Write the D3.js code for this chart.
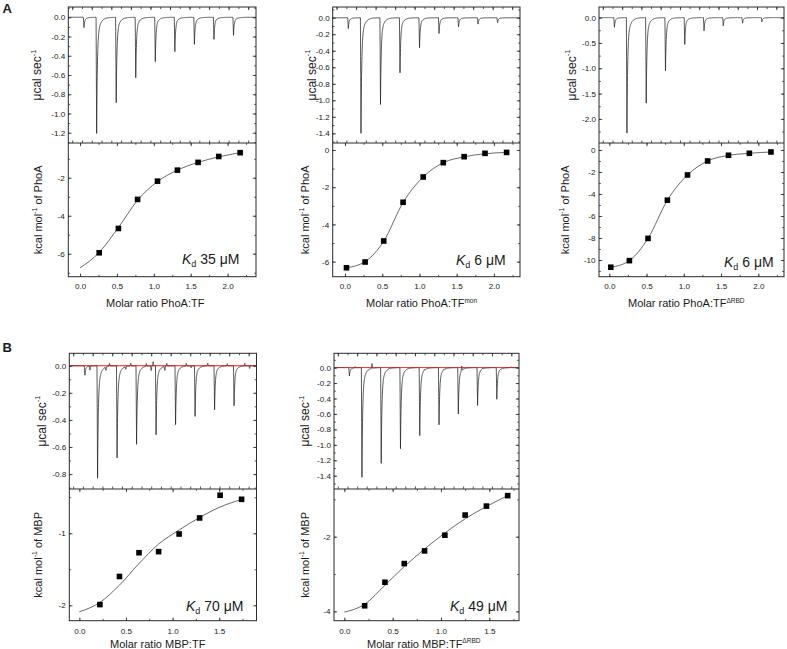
<!DOCTYPE html>
<html><head><meta charset="utf-8">
<script src="https://cdn.jsdelivr.net/npm/d3@7"></script>
<style>
body{margin:0;background:#fff}
svg{display:block}
text{font-family:"Liberation Sans",Arial,Helvetica,sans-serif;fill:#1a1a1a}
</style>
</head><body>
<svg id="c" width="787" height="649"></svg>
<script>
// ---------------- DATA ----------------
// injection times (min) of the raw ITC traces
const injTimes = [6, 12.5, 22.5, 32.5, 42.5, 52.5, 62.5, 72.5, 82.5];
// peak heights (µcal/sec) of each injection
const peaksA1 = [-0.107, -1.207, -0.888, -0.628, -0.461, -0.357, -0.281, -0.229, -0.187];
const peaksA2 = [-0.13, -1.40, -1.05, -0.666, -0.363, -0.19, -0.109, -0.077, -0.06];
const peaksA3 = [-0.19, -2.28, -1.69, -1.05, -0.53, -0.26, -0.16, -0.11, -0.085];
const peaksB1 = [-0.07, -0.83, -0.68, -0.58, -0.51, -0.435, -0.374, -0.325, -0.295];
const peaksB2 = [-0.108, -1.42, -1.24, -1.05, -0.88, -0.74, -0.60, -0.49, -0.41];
// small baseline deflections in the MBP traces [time, amplitude]
const blipsB1 = [[8.6,-0.03],[16.8,-0.025],[18.6,0.02],[27,-0.02],[29.5,0.02],[37.5,0.02],[40,-0.035],[41,0.03],[47,-0.03],[48,0.02],[58,0.02],[60.5,-0.015],[69,0.02],[79,0.015],[88,0.02],[90.5,-0.02]];
const blipsB2 = [[9,0.015],[17.7,0.06],[27,0.01],[45,0.012],[55,0.01],[64.3,0.06],[75,0.01],[90,0.012]];

// integrated heats (kcal/mol of injectant)
const xA1 = [0.26, 0.52, 0.78, 1.05, 1.32, 1.60, 1.88, 2.17];
const yA1 = [-5.95, -4.67, -3.14, -2.18, -1.60, -1.19, -0.88, -0.68];
const xA2 = [0.02, 0.27, 0.52, 0.78, 1.05, 1.32, 1.60, 1.88, 2.17];
const yA2 = [-6.33, -6.02, -4.89, -2.81, -1.45, -0.68, -0.36, -0.18, -0.13];
const xA3 = [0.02, 0.27, 0.52, 0.78, 1.05, 1.32, 1.60, 1.88, 2.17];
const yA3 = [-10.66, -10.06, -8.04, -4.56, -2.27, -1.00, -0.48, -0.30, -0.18];
const xB1 = [0.22, 0.43, 0.64, 0.85, 1.07, 1.29, 1.51, 1.74];
const yB1 = [-1.99, -1.60, -1.27, -1.255, -1.01, -0.787, -0.472, -0.528];
const xB2 = [0.21, 0.42, 0.62, 0.83, 1.04, 1.25, 1.47, 1.69];
const yB2 = [-3.85, -3.22, -2.72, -2.38, -1.96, -1.42, -1.18, -0.90];

// fitted binding curves
const fitXA1 = [0, 0.26, 0.52, 0.78, 1.05, 1.32, 1.60, 1.88, 2.17];
const fitYA1 = [-6.75, -5.93, -4.62, -3.18, -2.20, -1.60, -1.19, -0.90, -0.68];
const fitXA2 = [0.02, 0.27, 0.52, 0.78, 1.05, 1.32, 1.60, 1.88, 2.17];
const fitYA2 = [-6.33, -6.00, -4.90, -2.82, -1.45, -0.68, -0.37, -0.20, -0.13];
const fitXA3 = [0.02, 0.27, 0.52, 0.78, 1.05, 1.32, 1.60, 1.88, 2.17];
const fitYA3 = [-10.66, -10.06, -8.04, -4.56, -2.27, -1.00, -0.49, -0.30, -0.18];
const fitXB1 = [0, 0.22, 0.43, 0.64, 0.85, 1.07, 1.29, 1.51, 1.74];
const fitYB1 = [-2.09, -1.96, -1.72, -1.42, -1.15, -0.955, -0.78, -0.635, -0.53];
const fitXB2 = [0, 0.21, 0.42, 0.62, 0.83, 1.04, 1.25, 1.47, 1.69];
const fitYB2 = [-4.02, -3.81, -3.30, -2.80, -2.33, -1.90, -1.52, -1.19, -0.90];

const kdValues = ["35", "6", "6", "70", "49"];
const titleMain = ["Molar ratio PhoA:TF", "Molar ratio PhoA:TF", "Molar ratio PhoA:TF", "Molar ratio MBP:TF", "Molar ratio MBP:TF"];
const titleSup = ["", "mon", "\u0394RBD", "", "\u0394RBD"];
const ligand = ["PhoA", "PhoA", "PhoA", "MBP", "MBP"];

// ---------------- LAYOUT ----------------
const rowA = {yt: 7, ym: 143, yb: 276.7, tickLab: 289, title: 307};
const rowB = {yt: 353.3, ym: 489, yb: 620.7, tickLab: 634.5, title: 647.5};
const panels = [
  {row: rowA, x0: 68.3, x1: 256, peaks: peaksA1, blips: null, base: false,
   topD: [0.107, -1.307], topStep: 0.2, topMinor: 0.1, topDec: 1,
   botD: [-0.17, -7.21], botStep: 2, botMinor: 1, botDec: 0,
   xD: [-0.159, 2.385], xStep: 0.5, xMinor: 0.25,
   px: xA1, py: yA1, fx: fitXA1, fy: fitYA1,
   tTitleX: 37, bTitleX: 38.3, xTitleX: 106, kdX: 182, kdY: 264},
  {row: rowA, x0: 332.7, x1: 520, peaks: peaksA2, blips: null, base: false,
   topD: [0.13, -1.517], topStep: 0.2, topMinor: 0.1, topDec: 1,
   botD: [0.376, -6.81], botStep: 2, botMinor: 1, botDec: 0,
   xD: [-0.165, 2.35], xStep: 0.5, xMinor: 0.25,
   px: xA2, py: yA2, fx: fitXA2, fy: fitYA2,
   tTitleX: 311.5, bTitleX: 305, xTitleX: 366, kdX: 456, kdY: 265},
  {row: rowA, x0: 599, x1: 784, peaks: peaksA3, blips: null, base: false,
   topD: [0.21, -2.476], topStep: 0.5, topMinor: 0.25, topDec: 1,
   botD: [0.636, -11.52], botStep: 2, botMinor: 1, botDec: 0,
   xD: [-0.138, 2.345], xStep: 0.5, xMinor: 0.25,
   px: xA3, py: yA3, fx: fitXA3, fy: fitYA3,
   tTitleX: 571.7, bTitleX: 565, xTitleX: 628, kdX: 724, kdY: 267},
  {row: rowB, x0: 69.3, x1: 256.5, peaks: peaksB1, blips: blipsB1, base: true,
   topD: [0.0915, -0.91], topStep: 0.2, topMinor: 0.1, topDec: 1,
   botD: [-0.385, -2.214], botStep: 1, botMinor: 0.5, botDec: 0,
   xD: [-0.108, 1.90], xStep: 0.5, xMinor: 0.25,
   px: xB1, py: yB1, fx: fitXB1, fy: fitYB1,
   tTitleX: 41.7, bTitleX: 38.3, xTitleX: 110, kdX: 186, kdY: 610.7},
  {row: rowB, x0: 334, x1: 519, peaks: peaksB2, blips: blipsB2, base: true,
   topD: [0.185, -1.572], topStep: 0.2, topMinor: 0.1, topDec: 1,
   botD: [-0.722, -4.25], botStep: 2, botMinor: 1, botDec: 0,
   xD: [-0.107, 1.807], xStep: 0.5, xMinor: 0.25,
   px: xB2, py: yB2, fx: fitXB2, fy: fitYB2,
   tTitleX: 305, bTitleX: 305, xTitleX: 367, kdX: 450, kdY: 610.7}
];
const timeDomain = [-2, 94];

// ---------------- HELPERS ----------------
const svg = d3.select("#c");
const TICK_FS = 8.1, TITLE_FS = 11, KD_FS = 14;
const ink = "#2a2a2a";

function ticksIn(domain, step) {
  const lo = Math.min(domain[0], domain[1]), hi = Math.max(domain[0], domain[1]);
  const a = Math.ceil(lo / step - 1e-6), b = Math.floor(hi / step + 1e-6);
  return d3.range(a, b + 1).map(i => +(i * step).toFixed(6));
}
function fmt(v, dec) {
  return (Math.abs(v) < 1e-9 ? 0 : v).toFixed(dec);
}
function styleAxis(g) {
  g.select(".domain").remove();
  g.selectAll("line").attr("stroke", ink).attr("stroke-width", 0.8);
  g.selectAll("text").attr("font-size", TICK_FS).attr("fill", "#1a1a1a")
    .style("font-family", '"Liberation Sans",Arial,sans-serif');
}
function pulse(t, t0, h) {
  const d = 0.3;
  if (t < t0 - d) return 0;
  if (t <= t0) return h * (t - (t0 - d)) / d;
  const dt = t - t0;
  return h * (0.8 * Math.exp(-dt / 0.35) + 0.2 * Math.exp(-dt / 1.5));
}
function blip(t, t0, a) {
  const w = 0.35, dd = Math.abs(t - t0);
  return dd > w ? 0 : a * (1 - dd / w);
}
function buildTrace(peaks, blips) {
  let ts = d3.range(timeDomain[0], timeDomain[1] + 1e-9, 0.05);
  ts = ts.concat(injTimes);
  if (blips) ts = ts.concat(blips.map(b => b[0]));
  ts.sort((a, b) => a - b);
  return ts.map(t => {
    let v = 0;
    peaks.forEach((h, i) => { v += pulse(t, injTimes[i], h); });
    if (blips) blips.forEach(b => { v += blip(t, b[0], b[1]); });
    return [t, v];
  });
}

// ---------------- DRAW ----------------
panels.forEach((p, i) => {
  const r = p.row;
  const g = svg.append("g");
  const clipId = "clip" + i;
  const defs = svg.append("defs");
  defs.append("clipPath").attr("id", clipId + "t").append("rect")
    .attr("x", p.x0).attr("y", r.yt).attr("width", p.x1 - p.x0).attr("height", r.ym - r.yt);
  defs.append("clipPath").attr("id", clipId + "b").append("rect")
    .attr("x", p.x0).attr("y", r.ym).attr("width", p.x1 - p.x0).attr("height", r.yb - r.ym);

  // ---- top panel (raw heat) ----
  const xt = d3.scaleLinear().domain(timeDomain).range([p.x0, p.x1]);
  const yt = d3.scaleLinear().domain(p.topD).range([r.yt, r.ym]);

  if (p.base) {
    g.append("line").attr("x1", p.x0 + 1).attr("x2", p.x1 - 1)
      .attr("y1", yt(0)).attr("y2", yt(0))
      .attr("stroke", "#e8333a").attr("stroke-width", 0.9);
  }
  const trace = buildTrace(p.peaks, p.blips);
  g.append("path").datum(trace)
    .attr("clip-path", `url(#${clipId}t)`)
    .attr("d", d3.line().x(d => xt(d[0])).y(d => yt(d[1])))
    .attr("fill", "none").attr("stroke", "#222").attr("stroke-width", 0.75);
  if (p.base) {
    g.append("line").attr("x1", p.x0 + 1).attr("x2", p.x1 - 1)
      .attr("y1", yt(0)).attr("y2", yt(0))
      .attr("stroke", "#e8333a").attr("stroke-width", 0.7).attr("opacity", 0.8);
  }

  // y axis top panel
  const tMaj = ticksIn(p.topD, p.topStep), tMin = ticksIn(p.topD, p.topMinor);
  g.append("g").attr("transform", `translate(${p.x0},0)`)
    .call(d3.axisLeft(yt).tickValues(tMin).tickSize(-1.8).tickFormat("")).call(styleAxis);
  g.append("g").attr("transform", `translate(${p.x0},0)`)
    .call(d3.axisLeft(yt).tickValues(tMaj).tickSize(-3.2).tickPadding(3).tickFormat(v => fmt(v, p.topDec))).call(styleAxis);
  g.append("g").attr("transform", `translate(${p.x1},0)`)
    .call(d3.axisRight(yt).tickValues(tMin).tickSize(-1.8).tickFormat("")).call(styleAxis);
  g.append("g").attr("transform", `translate(${p.x1},0)`)
    .call(d3.axisRight(yt).tickValues(tMaj).tickSize(-3.2).tickFormat("")).call(styleAxis);
  // time ticks
  const timeMaj = ticksIn(timeDomain, 10), timeMin = ticksIn(timeDomain, 5);
  g.append("g").attr("transform", `translate(0,${r.yt})`)
    .call(d3.axisTop(xt).tickValues(timeMin).tickSize(-2).tickFormat("")).call(styleAxis);
  g.append("g").attr("transform", `translate(0,${r.yt})`)
    .call(d3.axisTop(xt).tickValues(timeMaj).tickSize(-3.2).tickFormat("")).call(styleAxis);
  g.append("g").attr("transform", `translate(0,${r.ym})`)
    .call(d3.axisBottom(xt).tickValues(timeMin).tickSize(-2.5).tickFormat("")).call(styleAxis);

  // ---- bottom panel (binding isotherm) ----
  const xb = d3.scaleLinear().domain(p.xD).range([p.x0, p.x1]);
  const yb = d3.scaleLinear().domain(p.botD).range([r.ym, r.yb]);

  const fit = p.fx.map((x, k) => [x, p.fy[k]]);
  g.append("path").datum(fit)
    .attr("clip-path", `url(#${clipId}b)`)
    .attr("d", d3.line().x(d => xb(d[0])).y(d => yb(d[1])).curve(d3.curveMonotoneX))
    .attr("fill", "none").attr("stroke", "#444").attr("stroke-width", 0.8);
  const sq = 5.6;
  g.selectAll("rect.pt").data(p.px.map((x, k) => [x, p.py[k]])).enter().append("rect")
    .attr("class", "pt")
    .attr("x", d => xb(d[0]) - sq / 2).attr("y", d => yb(d[1]) - sq / 2)
    .attr("width", sq).attr("height", sq).attr("fill", "#000");

  const bMaj = ticksIn(p.botD, p.botStep), bMin = ticksIn(p.botD, p.botMinor);
  g.append("g").attr("transform", `translate(${p.x0},0)`)
    .call(d3.axisLeft(yb).tickValues(bMin).tickSize(-1.8).tickFormat("")).call(styleAxis);
  g.append("g").attr("transform", `translate(${p.x0},0)`)
    .call(d3.axisLeft(yb).tickValues(bMaj).tickSize(-3.2).tickPadding(3.5).tickFormat(v => fmt(v, p.botDec))).call(styleAxis);
  g.append("g").attr("transform", `translate(${p.x1},0)`)
    .call(d3.axisRight(yb).tickValues(bMin).tickSize(-1.8).tickFormat("")).call(styleAxis);
  g.append("g").attr("transform", `translate(${p.x1},0)`)
    .call(d3.axisRight(yb).tickValues(bMaj).tickSize(-3.2).tickFormat("")).call(styleAxis);

  const xMaj = ticksIn(p.xD, p.xStep), xMin = ticksIn(p.xD, p.xMinor);
  g.append("g").attr("transform", `translate(0,${r.yb})`)
    .call(d3.axisBottom(xb).tickValues(xMin).tickSize(-1.8).tickFormat("")).call(styleAxis);
  const xa = g.append("g").attr("transform", `translate(0,${r.yb})`)
    .call(d3.axisBottom(xb).tickValues(xMaj).tickSize(-3.2).tickFormat(v => fmt(v, 1))).call(styleAxis);
  xa.selectAll("text").attr("y", r.tickLab - r.yb).attr("dy", 0);
  g.append("g").attr("transform", `translate(0,${r.ym})`)
    .call(d3.axisTop(xb).tickValues(xMaj).tickSize(-3.2).tickFormat("")).call(styleAxis);
  g.append("g").attr("transform", `translate(0,${r.ym})`)
    .call(d3.axisTop(xb).tickValues(xMin).tickSize(-1.8).tickFormat("")).call(styleAxis);

  // frames
  g.append("rect").attr("x", p.x0).attr("y", r.yt).attr("width", p.x1 - p.x0).attr("height", r.yb - r.yt)
    .attr("fill", "none").attr("stroke", ink).attr("stroke-width", 1);
  g.append("line").attr("x1", p.x0).attr("x2", p.x1).attr("y1", r.ym).attr("y2", r.ym)
    .attr("stroke", ink).attr("stroke-width", 1);

  // titles
  const tt = g.append("text").attr("text-anchor", "middle").attr("dominant-baseline", "central")
    .attr("font-size", 12)
    .attr("transform", `translate(${p.tTitleX},${(r.yt + r.ym) / 2}) rotate(-90)`);
  tt.append("tspan").text("\u03bccal sec");
  tt.append("tspan").text("-1").attr("font-size", 7.5).attr("dy", -4.5);

  const bt = g.append("text").attr("text-anchor", "middle").attr("dominant-baseline", "central")
    .attr("font-size", TITLE_FS)
    .attr("transform", `translate(${p.bTitleX},${(r.ym + r.yb) / 2}) rotate(-90)`);
  bt.append("tspan").text("kcal mol");
  bt.append("tspan").text("-1").attr("font-size", 7).attr("dy", -4);
  bt.append("tspan").text(" of " + ligand[i]).attr("dy", 4);

  const xt2 = g.append("text").attr("x", p.xTitleX).attr("y", r.title).attr("font-size", TITLE_FS);
  xt2.append("tspan").text(titleMain[i]);
  if (titleSup[i]) xt2.append("tspan").text(titleSup[i]).attr("font-size", 6.5).attr("dy", -4.5);

  // Kd annotation
  const kd = g.append("text").attr("x", p.kdX).attr("y", p.kdY).attr("font-size", KD_FS);
  kd.append("tspan").text("K").attr("font-style", "italic");
  kd.append("tspan").text("d").attr("font-size", 9).attr("dy", 3);
  kd.append("tspan").text(" " + kdValues[i] + " \u03bcM").attr("dy", -3);
});

// panel letters
svg.append("text").attr("x", 2.5).attr("y", 12.5).attr("font-size", 13).attr("font-weight", "bold").text("A");
svg.append("text").attr("x", 2.5).attr("y", 352).attr("font-size", 13).attr("font-weight", "bold").text("B");
</script>
</body></html>
